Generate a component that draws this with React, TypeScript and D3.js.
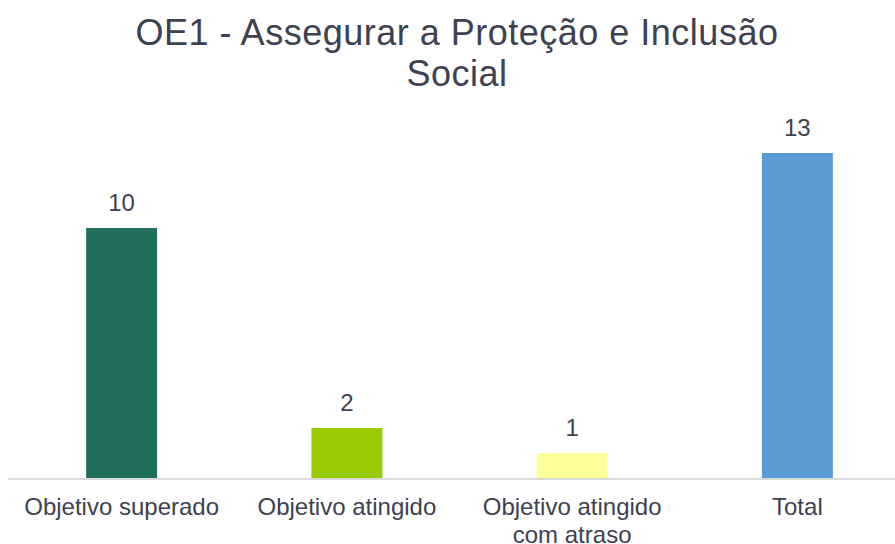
import React from "react";
import * as d3 from "d3";

const categories = ["Objetivo superado", "Objetivo atingido", "Objetivo atingido com atraso", "Total"];
const categoryLines = [["Objetivo superado"], ["Objetivo atingido"], ["Objetivo atingido", "com atraso"], ["Total"]];
const values = [10, 2, 1, 13];
const colors = ["#1f6f5c", "#99cc00", "#ffff99", "#5b9bd5"];
const titleLines = ["OE1 - Assegurar a Proteção e Inclusão", "Social"];

const W = 895;
const H = 544;

export default function App() {
  const x = d3.scaleBand<string>().domain(categories).range([9, 910]).paddingInner(0.685).paddingOuter(0.3425);
  const y = d3.scaleLinear().domain([0, 14]).range([478, 128]);
  const font = "'Liberation Sans', Arial, sans-serif";
  const textColor = "#3d4150";
  return (
    <svg width={W} height={H} style={{ position: "absolute", left: 0, top: 0, background: "#fff" }}>
      {titleLines.map((t, i) => (
        <text key={i} x={457} y={45 + i * 41} textAnchor="middle" fontFamily={font} fontSize={36} letterSpacing={0.5} fill={textColor}>
          {t}
        </text>
      ))}
      {categories.map((c, i) => (
        <g key={c}>
          <rect x={x(c)} y={y(values[i])} width={x.bandwidth()} height={y(0) - y(values[i])} fill={colors[i]} />
          <text x={(x(c) as number) + x.bandwidth() / 2} y={y(values[i]) - 17} textAnchor="middle" fontFamily={font} fontSize={24} fill={textColor}>
            {values[i]}
          </text>
          {categoryLines[i].map((l, j) => (
            <text key={j} x={(x(c) as number) + x.bandwidth() / 2} y={515 + j * 28} textAnchor="middle" fontFamily={font} fontSize={24} fill={textColor}>
              {l}
            </text>
          ))}
        </g>
      ))}
      <line x1={8} x2={W} y1={479} y2={479} stroke="#d9d9d9" strokeWidth={2} />
    </svg>
  );
}
